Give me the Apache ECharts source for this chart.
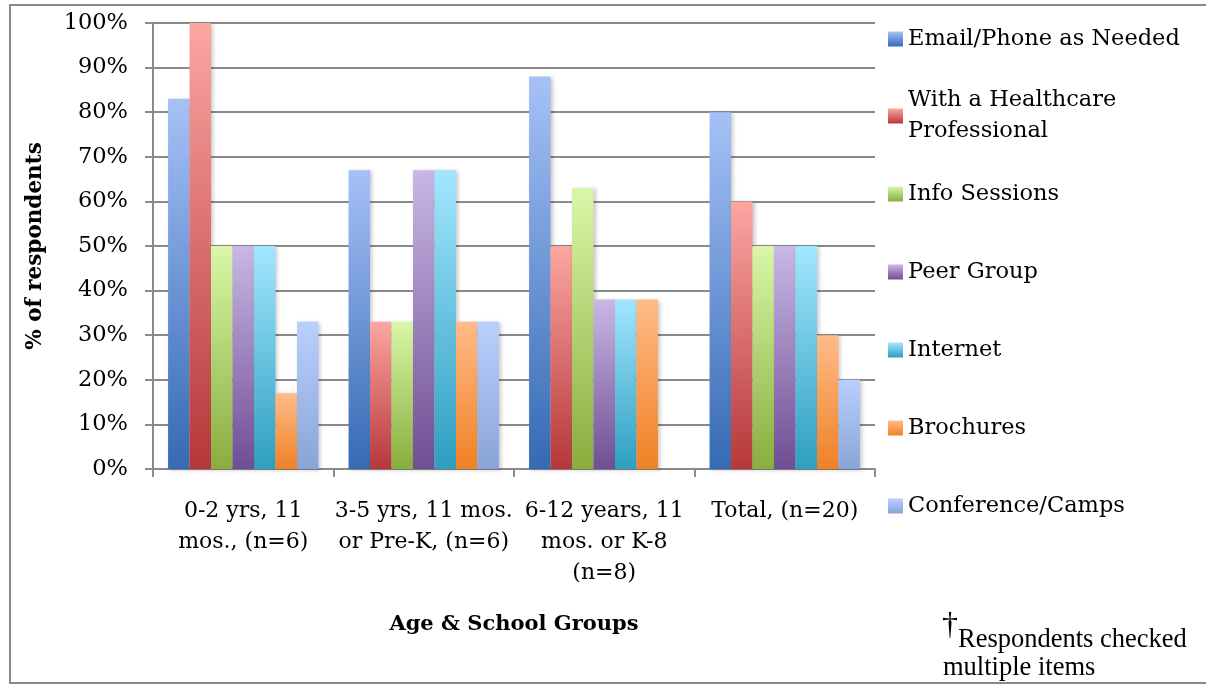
<!DOCTYPE html>
<html>
<head>
<meta charset="utf-8">
<script src="https://cdn.jsdelivr.net/npm/echarts@6/dist/echarts.min.js"></script>
<style>
html,body{margin:0;padding:0;background:#fff;}
#chart{width:1206px;height:685px;}
</style>
</head>
<body>
<div id="chart"></div>
<script>
const categories = [
  "0-2 yrs, 11\nmos., (n=6)",
  "3-5 yrs, 11 mos.\nor Pre-K, (n=6)",
  "6-12 years, 11\nmos. or K-8\n(n=8)",
  "Total, (n=20)"
];
const seriesNames = [
  "Email/Phone as Needed",
  "With a Healthcare Professional",
  "Info Sessions",
  "Peer Group",
  "Internet",
  "Brochures",
  "Conference/Camps"
];
const emailPhone   = [83, 67, 88, 80];
const healthcare   = [100, 33, 50, 60];
const infoSessions = [50, 33, 63, 50];
const peerGroup    = [50, 67, 38, 50];
const internet     = [50, 67, 38, 50];
const brochures    = [17, 33, 38, 30];
const conference   = [33, 33, 0, 20];
const seriesValues = [emailPhone, healthcare, infoSessions, peerGroup, internet, brochures, conference];
const yTicks = [0, 10, 20, 30, 40, 50, 60, 70, 80, 90, 100];

const gradients = [
  ["#a6c1f7", "#356ab4"],
  ["#fca6a2", "#b6373a"],
  ["#d9f7a7", "#89ad3e"],
  ["#c9b7e4", "#6f4e94"],
  ["#a2e6fe", "#2e9fc0"],
  ["#ffbb88", "#f08125"],
  ["#b9d0fe", "#89a4d6"]
];
const legendCenters = [39, 116, 194, 272, 350, 428, 506];

const FONT = "DejaVu Serif";
const chart = echarts.init(document.getElementById("chart"));

function grad(i) {
  return new echarts.graphic.LinearGradient(0, 0, 0, 1, [
    {offset: 0, color: gradients[i][0]},
    {offset: 1, color: gradients[i][1]}
  ]);
}

const series = seriesNames.map((name, i) => ({
  name: name,
  type: "bar",
  data: seriesValues[i],
  barGap: "0%",
  barCategoryGap: "16.7%",
  itemStyle: {
    color: grad(i),
    shadowBlur: 4,
    shadowColor: "rgba(0,0,0,0.22)",
    shadowOffsetX: 2,
    shadowOffsetY: 1
  }
}));

const legends = seriesNames.map((name, i) => {
  const twoLine = name === "With a Healthcare Professional";
  return {
    data: [name],
    orient: "vertical",
    left: 888,
    top: twoLine ? legendCenters[i] - 46.5 : legendCenters[i] - 15.5,
    padding: 0,
    itemWidth: 15,
    itemHeight: 15,
    icon: "rect",
    selectedMode: false,
    formatter: twoLine ? "With a Healthcare\nProfessional" : "{name}",
    textStyle: {
      fontFamily: FONT,
      fontSize: 22.5,
      color: "#000",
      lineHeight: 31,
      padding: twoLine ? [31, 0, 0, 0] : 0
    }
  };
});

chart.setOption({
  animation: false,
  backgroundColor: "#fff",
  grid: {left: 153, right: 331, top: 23, bottom: 216, containLabel: false},
  legend: legends,
  xAxis: {
    type: "category",
    data: categories,
    name: "Age & School Groups",
    nameLocation: "middle",
    nameGap: 145,
    nameTextStyle: {fontFamily: FONT, fontWeight: "bold", fontSize: 21, color: "#000"},
    axisLine: {lineStyle: {color: "#8a8a8a", width: 2}},
    axisTick: {show: true, length: 8, lineStyle: {color: "#8a8a8a", width: 2}},
    axisLabel: {
      fontFamily: FONT, fontSize: 22, color: "#000",
      margin: 27, lineHeight: 31, interval: 0
    }
  },
  yAxis: {
    type: "value",
    min: 0,
    max: 100,
    interval: 10,
    name: "% of respondents",
    nameLocation: "middle",
    nameGap: 107,
    nameRotate: 90,
    nameTextStyle: {fontFamily: FONT, fontWeight: "bold", fontSize: 21.5, color: "#000"},
    axisLine: {show: true, lineStyle: {color: "#8a8a8a", width: 2}},
    axisTick: {show: true, length: 8, lineStyle: {color: "#8a8a8a", width: 2}},
    splitLine: {lineStyle: {color: "#8a8a8a", width: 2}},
    axisLabel: {
      fontFamily: FONT, fontSize: 22.5, color: "#000", margin: 25,
      formatter: v => yTicks.includes(v) ? v + "%" : ""
    }
  },
  series: series,
  graphic: [
    {
      type: "rect",
      shape: {x: 10, y: 5, width: 1210, height: 678},
      style: {fill: "none", stroke: "#8a8a8a", lineWidth: 2},
      silent: true, z: -1
    },
    {
      type: "text",
      left: 942, top: 610,
      style: {text: "†", fontFamily: "Liberation Serif", fontSize: 32, fill: "#000"}
    },
    {
      type: "text",
      left: 958, top: 627,
      style: {text: "Respondents checked", fontFamily: "Liberation Serif", fontSize: 26.5, fill: "#000"}
    },
    {
      type: "text",
      left: 943, top: 655,
      style: {text: "multiple items", fontFamily: "Liberation Serif", fontSize: 26.5, fill: "#000"}
    }
  ]
});
</script>
</body>
</html>
